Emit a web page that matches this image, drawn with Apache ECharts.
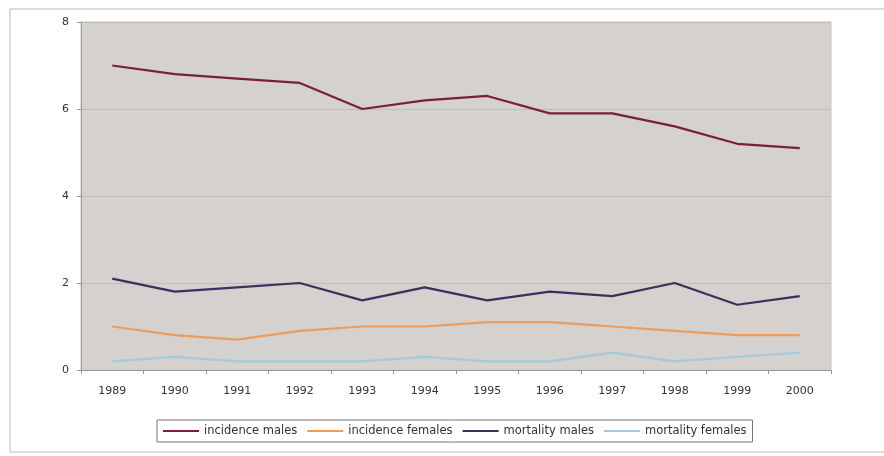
<!DOCTYPE html>
<html>
<head>
<meta charset="utf-8">
<script src="https://cdn.jsdelivr.net/npm/echarts@6/dist/echarts.min.js"></script>
<style>
    html, body { margin: 0; padding: 0; background: #fff; }
    #chart { width: 884px; height: 456px; }
</style>
</head>
<body>
<div id="chart"></div>
<script>
// years on the x axis
const years = ['1989', '1990', '1991', '1992', '1993', '1994', '1995', '1996', '1997', '1998', '1999', '2000'];

// rates per series
const incidenceMales = [7.0, 6.8, 6.7, 6.6, 6.0, 6.2, 6.3, 5.9, 5.9, 5.6, 5.2, 5.1];
const incidenceFemales = [1.0, 0.8, 0.7, 0.9, 1.0, 1.0, 1.1, 1.1, 1.0, 0.9, 0.8, 0.8];
const mortalityMales = [2.1, 1.8, 1.9, 2.0, 1.6, 1.9, 1.6, 1.8, 1.7, 2.0, 1.5, 1.7];
const mortalityFemales = [0.2, 0.3, 0.2, 0.2, 0.2, 0.3, 0.2, 0.2, 0.4, 0.2, 0.3, 0.4];

const chart = echarts.init(document.getElementById('chart'));

function line(name, data, color) {
    return {
        name: name,
        type: 'line',
        data: data,
        symbol: 'none',
        smooth: false,
        lineStyle: { color: color, width: 2.2 },
        itemStyle: { color: color },
    };
}

chart.setOption({
    animation: false,
    backgroundColor: '#fff',
    textStyle: { fontFamily: 'DejaVu Sans, sans-serif' },
    graphic: [{
        type: 'rect',
        shape: { x: 10, y: 9, width: 900, height: 443 },
        style: { fill: null, stroke: '#b8b8b8', lineWidth: 1 },
        silent: true,
        z: -10,
    }],
    grid: {
        left: 81,
        top: 22,
        width: 750,
        height: 348,
        show: true,
        backgroundColor: '#d5d1cf',
        borderColor: '#c8c4c2',
        borderWidth: 1,
    },
    legend: {
        left: 157,
        top: 420,
        itemGap: 10,
        padding: [5, 6],
        itemWidth: 36,
        itemHeight: 2,
        icon: 'rect',
        borderColor: '#777',
        borderWidth: 1,
        textStyle: { fontSize: 11.5, color: '#333' },
        data: ['incidence males', 'incidence females', 'mortality males', 'mortality females'],
    },
    xAxis: {
        type: 'category',
        data: years,
        boundaryGap: true,
        axisLine: { lineStyle: { color: '#999' } },
        axisTick: { show: true, length: 4, lineStyle: { color: '#999' } },
        axisLabel: { color: '#333', fontSize: 11, margin: 16 },
    },
    yAxis: {
        type: 'value',
        min: 0,
        max: 8,
        interval: 2,
        axisLine: { show: true, lineStyle: { color: '#999' } },
        axisTick: { show: true, length: 4, lineStyle: { color: '#999' } },
        axisLabel: { color: '#333', fontSize: 11, margin: 12 },
        splitLine: { lineStyle: { color: '#c0bcba', width: 1 } },
    },
    series: [
        line('incidence males', incidenceMales, '#7d1f33'),
        line('incidence females', incidenceFemales, '#ec9c5c'),
        line('mortality males', mortalityMales, '#3b2f5e'),
        line('mortality females', mortalityFemales, '#a6c8dc'),
    ],
});
</script>
</body>
</html>
